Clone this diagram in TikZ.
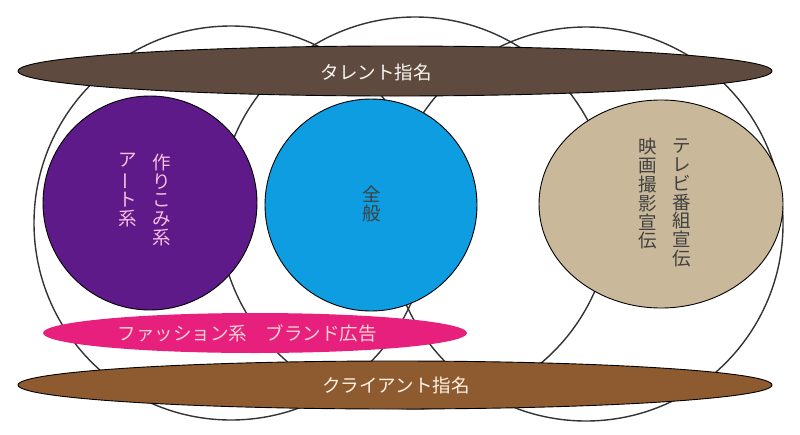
\documentclass[tikz,border=0pt]{standalone}
\usepackage{fontspec}
\setmainfont{Noto Sans CJK JP}
\definecolor{talentbrown}{HTML}{5E4A3E}
\definecolor{clientbrown}{HTML}{8E5A30}
\definecolor{artpurple}{HTML}{5F1A8A}
\definecolor{allblue}{HTML}{0E9DE0}
\definecolor{tvtan}{HTML}{C9B99A}
\definecolor{fashionpink}{HTML}{E6207C}
\begin{document}
\begin{tikzpicture}[x=1pt,y=-1pt,
	ring/.style={draw=black!80,line width=1.4pt},
	blob/.style={draw=black,line width=0.9pt},
	jp/.style={font=\fontsize{18.5}{18.8}\selectfont,inner sep=0pt,align=center}]
	\useasboundingbox (0,0) rectangle (800,434);
	% the three big rings
	\draw[ring] (231,223) circle (197pt);
	\draw[ring] (415,213) circle (196pt);
	\draw[ring] (586,224) circle (197pt);
	% top band
	\fill[talentbrown,draw=black,line width=0.9pt] (395,71) ellipse (377pt and 25pt);
	\node[jp,text=white!92!brown] (talent) at (376,72) {タレント指名};
	% coloured groups
	\fill[artpurple,blob] (150,203) circle (107pt);
	\node[jp,text=magenta!25!white] (craft) at (162,200) {作\\り\\こ\\み\\系};
	\node[jp,text=magenta!25!white] (art) at (128,190) {ア\\\rotatebox[origin=c]{90}{ー}\\ト\\系};
	\fill[allblue,blob] (371,205) circle (106pt);
	\node[jp,text=black!75] (general) at (372,204) {全\\般};
	\fill[tvtan,blob] (661,204) ellipse (122pt and 104pt);
	\node[jp,text=black!75] (tv) at (682,203) {テ\\レ\\ビ\\番\\組\\宣\\伝};
	\node[jp,text=black!75] (movie) at (648,194) {映\\画\\撮\\影\\宣\\伝};
	% bottom bands
	\fill[fashionpink] (255,333) ellipse (212pt and 20pt);
	\node[jp,text=pink!70!white] (fashion) at (247,333) {ファッション系　ブランド広告};
	\fill[clientbrown,draw=black,line width=0.9pt] (395,385) ellipse (377pt and 24pt);
	\node[jp,text=white!90!orange] (client) at (396,385) {クライアント指名};
\end{tikzpicture}
\end{document}
